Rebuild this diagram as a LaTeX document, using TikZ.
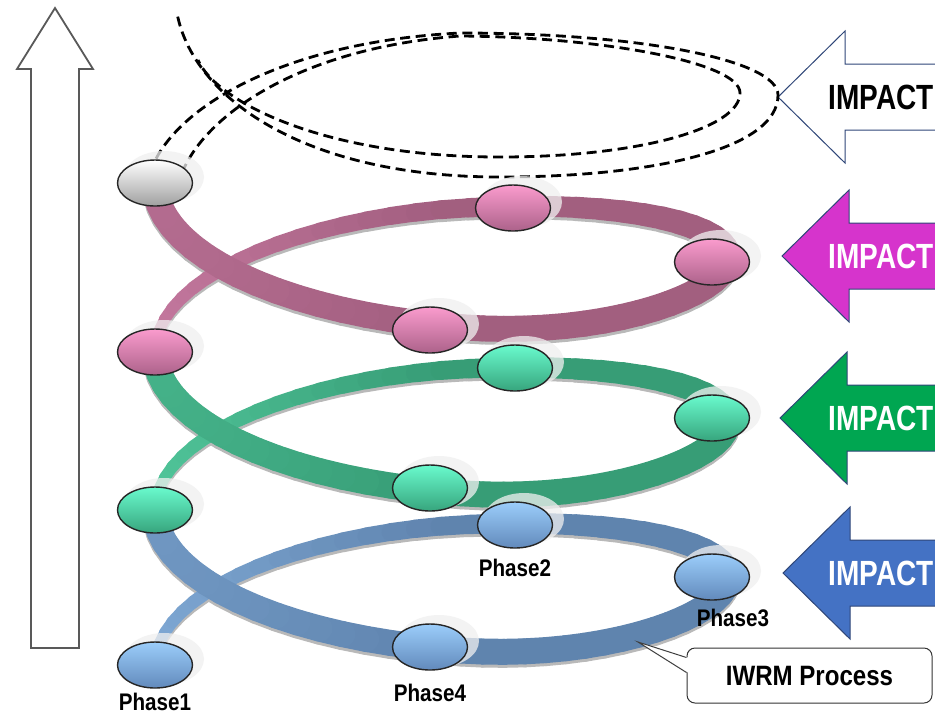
\documentclass[tikz,border=0pt]{standalone}
\usepackage{fontspec}
\setmainfont{Liberation Sans}
\newfontfamily\narrowfont[FakeStretch=0.86]{Liberation Sans}
\newfontfamily\impactfont[FakeStretch=0.8]{Liberation Sans}
\usepackage{tikz}
\usetikzlibrary{shapes.geometric,calc,positioning}

\definecolor{bluedark}{RGB}{92,128,170}
\definecolor{bluelight}{RGB}{135,178,222}
\definecolor{greendark}{RGB}{52,152,114}
\definecolor{greenlight}{RGB}{88,208,164}
\definecolor{pinkdark}{RGB}{158,92,124}
\definecolor{pinklight}{RGB}{205,126,166}
\definecolor{bluetop}{RGB}{155,205,250}
\definecolor{bluebot}{RGB}{98,138,188}
\definecolor{greentop}{RGB}{105,250,205}
\definecolor{greenbot}{RGB}{55,165,125}
\definecolor{pinktop}{RGB}{250,155,205}
\definecolor{pinkbot}{RGB}{172,98,138}
\definecolor{arrowpink}{RGB}{214,52,204}
\definecolor{arrowgreen}{RGB}{0,166,81}
\definecolor{arrowblue}{RGB}{68,114,196}
\definecolor{arrowline}{RGB}{47,70,120}

\tikzset{
  declare function={hx(\t)=440+285*cos(180-360*\t)+40*sin(180-360*\t)*max(0,cos(180-360*\t));
    hy(\t,\a,\b)=\a-(\a-\b)*\t-100*sin(180-360*\t);
    rw(\t)=5+8*min(1,\t/0.45);}
}

% one turn of the spiral: start y, end y, light colour, dark colour
\newcommand\ribbonturn[4]{%
  \foreach \i in {0,...,71}{
    \pgfmathsetmacro\ta{\i/72}
    \pgfmathsetmacro\tb{(\i+1)/72}
    \pgfmathsetmacro\lw{rw(\ta)}
    \draw[gray!55, line width=\lw pt, line cap=round]
      ({hx(\ta)},{hy(\ta,#1,#2)+3}) -- ({hx(\tb)},{hy(\tb,#1,#2)+3});
  }
  \foreach \i in {0,...,71}{
    \pgfmathsetmacro\ta{\i/72}
    \pgfmathsetmacro\tb{(\i+1)/72}
    \pgfmathsetmacro\lw{rw(\ta)}
    \pgfmathtruncatemacro\mix{8+72*max(0,-cos(180-360*\ta))*(1-0.5*\ta)}
    \draw[#3!\mix!#4, line width=\lw pt, line cap=round]
      ({hx(\ta)},{hy(\ta,#1,#2)}) -- ({hx(\tb)},{hy(\tb,#1,#2)});
  }
}

\begin{document}
\begin{tikzpicture}[x=0.5pt, y=-0.5pt,
  phase/.style={ellipse, draw=black!85, line width=0.7pt, minimum width=37.5pt, minimum height=23pt, inner sep=0pt},
  bluephase/.style={phase, top color=bluetop, bottom color=bluebot},
  greenphase/.style={phase, top color=greentop, bottom color=greenbot},
  pinkphase/.style={phase, top color=pinktop, bottom color=pinkbot},
  greyphase/.style={phase, top color=white, bottom color=gray!75},
  halo/.style={fill=gray!12, opacity=0.75},
  lbl/.style={font=\narrowfont\bfseries\fontsize{12}{14}\selectfont, inner sep=0pt},
  impact/.style={font=\impactfont\bfseries\fontsize{17.5}{20}\selectfont, inner sep=0pt, anchor=west},
  impactarrow/.style={draw=arrowline, line width=0.5pt},
  dashline/.style={black, line width=1.4pt, dash pattern=on 5pt off 2.8pt},
  callbox/.style={draw=black!80, fill=white, line width=0.5pt, rounded corners=4pt, minimum width=122.5pt, minimum height=27.5pt, font=\narrowfont\bfseries\fontsize{14}{16}\selectfont}]
  \useasboundingbox (0,0) rectangle (935,714);
  \clip (0,0) rectangle (935,714);
  \fill[white] (0,0) rectangle (935,714);

  \draw[black!65, line width=0.9pt, fill=white] (31,648) -- (31,69) -- (17,69) -- (55,8) -- (93,69) -- (79,69) -- (79,648) -- cycle;

  \foreach \tx/\ty/\fc/\tc/\n in {778/97/white/black/imp1, 782/256/arrowpink/white/imp2, 780/418/arrowgreen/white/imp3, 783/573/arrowblue/white/imp4}{
    \draw[impactarrow, fill=\fc] (\tx,\ty) -- (\tx+67,\ty-66) -- (\tx+67,\ty-33) -- (960,\ty-33) -- (960,\ty+33) -- (\tx+67,\ty+33) -- (\tx+67,\ty+66) -- cycle;
    \node[impact, text=\tc] (\n) at (828,\ty) {IMPACT};
  }

  \ribbonturn{665}{510}{bluelight}{bluedark}
  \ribbonturn{510}{352}{greenlight}{greendark}
  \ribbonturn{352}{183}{pinklight}{pinkdark}

  \coordinate (top) at (155,183);
  \draw[dashline] ([shift={(-5,-10)}]top) .. controls (170,110) and (280,42) .. (460,33) .. controls (640,33) and (778,60) .. (778,95) .. controls (778,150) and (650,177) .. (500,177) .. controls (300,177) and (192,95) .. (177,13);
  \draw[dashline] ([shift={(27,-10)}]top) .. controls (205,115) and (300,48) .. (460,36) .. controls (600,37) and (740,62) .. (740,93) .. controls (740,128) and (640,157) .. (500,157) .. controls (320,157) and (215,100) .. (198,60);

  \foreach \n/\x/\y/\s in {b1/155/665/bluephase, b2/515/525/bluephase, b3/712/577/bluephase, b4/430/647/bluephase,
      g1/155/510/greenphase, g2/515/368/greenphase, g3/712/418/greenphase, g4/430/488/greenphase,
      p1/155/352/pinkphase, p2/513/208/pinkphase, p3/712/262/pinkphase, p4/430/330/pinkphase, w1/155/183/greyphase}{
    \fill[halo] (\x+9,\y-6) ellipse [x radius=20pt, y radius=13pt];
    \node[\s] (\n) at (\x,\y) {};
  }

  \node[lbl, below=2pt of b1] (lab1) {Phase1};
  \node[lbl, below=5pt of b2] (lab2) {Phase2};
  \node[lbl, below=4pt of b3, xshift=10.5pt] (lab3) {Phase3};
  \node[lbl, below=6.5pt of b4] (lab4) {Phase4};

  \node[callbox] (iwrm) at (809.5,675.5) {IWRM Process};
  \coordinate (tail) at (638,642);
  \fill[white] ($(iwrm.west)+(1.5,-18)$) -- (tail) -- ($(iwrm.west)+(1.5,-3)$) -- cycle;
  \draw[black!75, line width=0.5pt] ($(iwrm.west)+(0,-18)$) -- (tail) -- ($(iwrm.west)+(0,-3)$);
\end{tikzpicture}
\end{document}
